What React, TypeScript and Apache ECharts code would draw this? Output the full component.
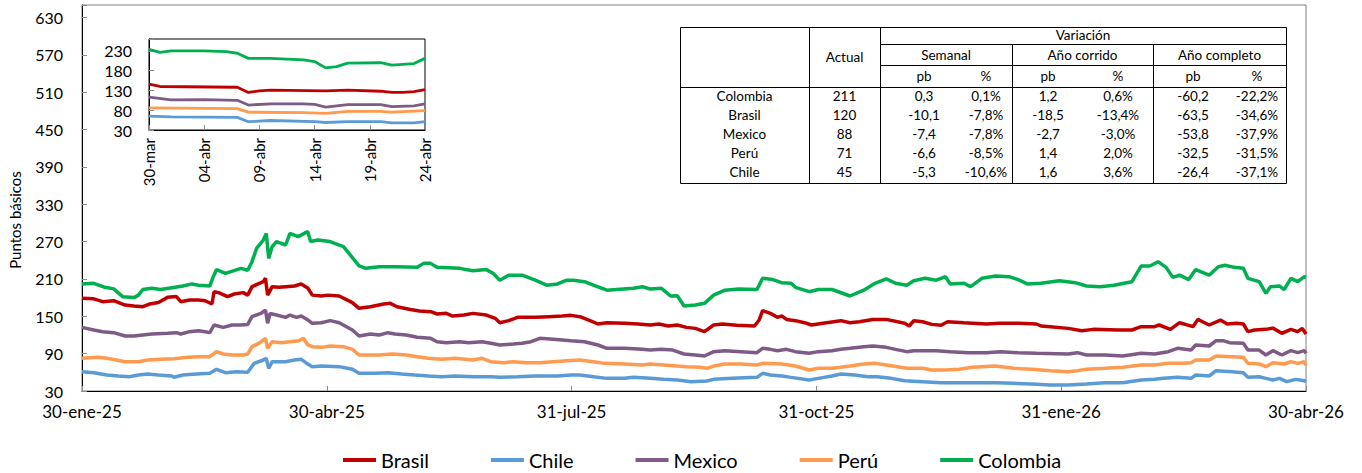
import React, { useEffect, useRef } from 'react';
import * as echarts from 'echarts';

// ---------- Data ----------
const seriesNames = ['Brasil', 'Chile', 'Mexico', 'Perú', 'Colombia'];
const seriesColors = ['#C00000', '#5B9BD5', '#7E5A86', '#FF9A4F', '#00B050'];

// main chart: x = days since 30-ene-25
const mainXLabels = ['30-ene-25', '30-abr-25', '31-jul-25', '31-oct-25', '31-ene-26', '30-abr-26'];
const insetXLabels = ['30-mar', '04-abr', '09-abr', '14-abr', '19-abr', '24-abr'];

const brasil: [number, number][] = [
  [0, 179], [4.4, 178], [7.7, 173.5], [11.8, 175], [16, 168], [19.3, 166.5], [22.6, 165.4], [25.1, 169.7], [28.4, 172],
  [31.8, 180.4], [35.1, 181.6], [36.7, 173.5], [40, 176.3], [43.3, 176.3], [45.8, 175], [48.3, 169.7], [49.1, 189.5],
  [50.8, 188], [54.1, 181.6], [56.6, 185.8], [59.9, 188], [61.6, 184], [63.2, 197.6], [67.4, 205.6], [68.2, 211],
  [69, 184], [70.7, 197.6], [73.2, 196.5], [75.7, 197.6], [79, 198.6], [81.5, 202], [84, 195], [85.6, 184], [89, 182.6],
  [91.4, 184], [95.6, 182.6], [100.5, 172], [103, 162.8], [107.2, 165.4], [112.2, 169.7], [114.6, 170.8], [117.1, 165.4],
  [122.1, 161], [125.4, 158.5], [129.6, 157.4], [132, 153.7], [135.4, 154.7], [137.8, 150.4], [142, 152], [145.3, 154.7],
  [150.3, 152], [153.6, 146.7], [155.3, 139.7], [158.6, 143], [161.9, 148.3], [168.5, 148.3], [173.5, 149.4],
  [178.5, 150.4], [181.8, 151.5], [185.1, 149.4], [188.4, 144], [191.8, 137.6], [195.1, 139.7], [201.7, 138.7],
  [206.7, 137.6], [211.2, 136], [214.5, 137.6], [217.9, 134.4], [221.3, 136], [224.7, 132.2], [228, 130.6],
  [231.4, 125.3], [234.8, 136], [238, 137.6], [243.3, 135.5], [250, 134.4], [251.7, 144], [253, 159], [255.9, 154.7],
  [258.5, 148.3], [260.1, 150.4], [261.9, 145], [265.2, 143], [268.6, 139.7], [271.2, 136], [275.4, 138.7], [282.1, 143],
  [285.5, 139.7], [288.9, 141.3], [294, 145], [299, 145], [305.8, 138.7], [307.5, 134.4], [309.2, 143], [312.5, 141.3],
  [315.9, 137], [319.3, 135.5], [321.8, 141.3], [327.8, 139.7], [336.2, 137.6], [341.3, 138.7], [348, 138.7],
  [354.8, 137.6], [356.5, 134.4], [359.9, 133.3], [366.6, 130.6], [371.7, 126.9], [375.9, 129], [385.2, 128],
  [390.3, 128], [393.7, 133.3], [398.7, 133.3], [400.4, 136], [404.6, 129], [408, 139.7], [411.4, 135.5], [413, 133.3],
  [414.8, 145], [417.3, 139.7], [419, 136], [423.2, 144], [425.7, 137.6], [429.2, 138.7], [431.7, 137.6], [433.4, 125.3],
  [435.9, 128], [440.1, 129], [442.7, 131], [446, 122.6], [449.4, 129], [451.9, 125.3], [453.6, 130.6], [455, 121.5],
];

const chile: [number, number][] = [
  [0, 61], [4.4, 59.4], [9.3, 55.7], [13.5, 54.1], [17.6, 53], [21, 55.7], [24.3, 57.3], [28.4, 55.7], [33.4, 54.1],
  [34.2, 52], [37.5, 55.7], [42.5, 57.3], [47.5, 58.4], [50, 64.8], [53.3, 59.4], [57.4, 61], [61.6, 60], [64, 74.4],
  [67.4, 79.8], [68.5, 82.5], [69.4, 66.4], [70.7, 77.1], [75.7, 77.1], [79, 79.8], [81.5, 80.9], [83.2, 75.5],
  [85.6, 69.1], [89, 70.1], [95.6, 69.1], [100.5, 64.8], [103, 58.4], [108.8, 58.4], [113.8, 59.4], [118.8, 57.3],
  [123.7, 55.7], [128.8, 54.1], [133.7, 53], [138.7, 54.1], [145.3, 53], [152, 53], [155.3, 52], [161.9, 53],
  [168.5, 54.1], [176.8, 54.1], [181.8, 55.7], [185.1, 55.7], [190.1, 53], [195.1, 50.3], [201.7, 50.3], [205, 52],
  [211.2, 50.3], [216.2, 48.7], [221.3, 47.7], [226.4, 45], [232.3, 46.1], [234.8, 48.7], [241.6, 50.3], [250.9, 51.9],
  [253, 58.4], [255.9, 55.7], [260.2, 54.1], [263.6, 51.9], [270.3, 47.7], [273.7, 50.3], [278.8, 54.1], [282.1, 57.3],
  [287.2, 55.7], [292.2, 53], [295.7, 53], [300.8, 50.3], [305.8, 46.6], [312.5, 45], [319.3, 43.4], [339.6, 43.4],
  [346.4, 42.3], [353.1, 41.2], [359.9, 39.6], [366.6, 39.6], [373.4, 41.2], [380.2, 43.4], [386.9, 43.4], [393.7, 47.7],
  [398.7, 48.7], [402.1, 50.3], [407.2, 51.9], [412.3, 50.3], [414, 55.7], [419, 54.1], [421.6, 62.7], [427.5, 61],
  [431.7, 59.4], [433.4, 51.9], [437.6, 53], [440.1, 50.3], [442.7, 47.7], [445.2, 50.3], [447.8, 45], [451.2, 48.7],
  [454.4, 46.6], [455, 45],
];

const mexico: [number, number][] = [
  [0, 132.2], [4.4, 128], [7.7, 125.3], [11.8, 123.7], [16, 118.3], [19.3, 118.3], [22.6, 120], [25.9, 121.5],
  [31.8, 122.6], [35.1, 123.7], [36.7, 121.5], [40, 125.3], [43.3, 126.9], [45.8, 125.3], [47.5, 123.7], [49.1, 136],
  [52.5, 132.2], [55.8, 136], [59.1, 136], [61.6, 137], [63.2, 149.4], [66.5, 154.7], [68.2, 160], [69, 138.7],
  [69.9, 154.7], [72.3, 152], [75.7, 148.3], [77.3, 152], [79.8, 148.3], [81.5, 150.4], [84, 144], [85.6, 138.7],
  [89, 139.7], [92.3, 143], [95.6, 139.7], [100.5, 128], [103, 118.3], [107.2, 121.5], [110.5, 120], [113.8, 123.7],
  [116.3, 121.5], [120.5, 120], [124.6, 116.2], [129.6, 114.6], [132, 109.2], [135.4, 107.6], [140.4, 109.2],
  [143.7, 107.6], [148.7, 109.2], [152, 106.6], [155.3, 103.9], [160.3, 105.5], [163.6, 106.6], [166.9, 109.2],
  [170.2, 114.6], [175.2, 113], [181.8, 110.8], [186.8, 109.2], [191.8, 103.9], [195.1, 98.5], [201.7, 98.5],
  [208.3, 96.9], [211.2, 95.8], [215.4, 96.9], [219.6, 95.8], [223.8, 89.4], [228, 87.8], [231.4, 86.2], [234.8, 93.2],
  [239, 94.8], [244.9, 93.2], [250.9, 91.6], [253, 98.5], [255.9, 96.9], [258.5, 94.8], [261.9, 96.9], [265.2, 93.2],
  [270.3, 90.5], [273.7, 93.2], [278.8, 94.8], [282.1, 96.9], [285.5, 98.5], [290.6, 101.2], [294, 102.3], [299, 100.1],
  [302.4, 96.9], [306.6, 93.2], [309.2, 94.8], [317.6, 94.8], [322.7, 93.2], [329.5, 91.6], [336.2, 91.6], [341.3, 93.2],
  [348, 91.6], [354.8, 90.5], [366.6, 89.4], [370, 91.6], [373.4, 87.8], [380.2, 87.8], [386.9, 86.2], [393.7, 90.5],
  [398.7, 89.4], [403.8, 93.2], [407.2, 98.5], [412.3, 95.8], [414, 103.9], [419, 102.3], [421.6, 110.8], [424.1, 110.8],
  [426.6, 107.6], [431.7, 106.6], [433.4, 95.8], [437.6, 95.8], [440.1, 87.8], [442.7, 94.8], [446, 87.8], [449.4, 94.8],
  [451.9, 91.6], [454.4, 94.8], [455, 90.5],
];

const peru: [number, number][] = [
  [0, 82.5], [6, 84.1], [9.3, 82.5], [12.7, 79.8], [16, 77.1], [21, 77.1], [24.3, 79.8], [29.2, 80.9], [34.2, 81.9],
  [39.2, 84.1], [43.3, 85.1], [47.5, 85.1], [50, 93.2], [52.5, 89.4], [55.8, 87.8], [59.9, 87.8], [61.6, 89.4],
  [63.2, 101.2], [65.7, 106.6], [68.2, 114.6], [69, 98.5], [70.7, 109.2], [74, 107.6], [77.3, 109.2], [80.6, 110.8],
  [82.3, 114.6], [84, 103.9], [85.6, 101.2], [89, 100.1], [92.3, 102.3], [97.2, 101.2], [100.5, 96.9], [103, 87.8],
  [110.5, 87.8], [115.5, 89.4], [120.5, 87.8], [124.6, 85.1], [128.8, 82.5], [133.7, 80.9], [138.7, 82.5], [145.3, 79.8],
  [148.7, 82.5], [152, 77.1], [156.9, 75.5], [160.3, 77.1], [165.2, 75.5], [170.2, 75.5], [175.2, 77.1], [180.2, 78.7],
  [185.1, 79.8], [190.1, 77.1], [194.2, 74.4], [201.7, 73.4], [208.3, 71.8], [211.2, 73.4], [216.2, 71.8], [221.3, 70.1],
  [224.7, 69.1], [229.7, 68], [232.3, 66.4], [234.8, 70.1], [239, 73.4], [244.9, 73.4], [250.9, 71.8], [253, 74.4],
  [260.2, 73.4], [265.2, 70.1], [270.3, 63.7], [273.7, 66.4], [278.8, 66.4], [282.1, 68], [285.5, 70.1], [290.6, 73.4],
  [294.8, 74.4], [299, 71.8], [303.2, 69.1], [306.6, 66.4], [312.5, 66.4], [315.9, 63.7], [321, 63.7], [326.1, 64.8],
  [331.1, 68], [339.6, 70.1], [346.4, 66.4], [353.1, 64.8], [359.9, 62.7], [366.6, 61], [370, 62.7], [373.4, 64.8],
  [380.2, 66.4], [386.9, 68], [393.7, 71.8], [398.7, 71.8], [403.8, 74.4], [408.9, 74.4], [412.3, 75.5], [414, 79.8],
  [419, 79.8], [421.6, 86.2], [427.5, 85.1], [431.7, 84.1], [433.4, 74.4], [437.6, 73.4], [440.1, 69.1], [442.7, 75.5],
  [446.9, 73.4], [449.4, 77.1], [451.9, 74.4], [454.4, 77.1], [455, 71.2],
];

const colombia: [number, number][] = [
  [0, 202], [4.4, 203], [8.5, 196.5], [11.8, 194], [15.1, 181.5], [19.3, 180], [21, 184], [22.6, 193], [25.9, 195],
  [29.2, 193], [33.4, 196], [37.5, 198.6], [40.9, 202], [43.3, 200], [47.5, 198.6], [48.8, 213.6], [50, 225], [53.3, 219],
  [59.1, 227], [61.6, 224], [63.2, 237.7], [64.9, 259], [67.4, 272.5], [68.5, 283], [69.4, 243], [70.7, 262], [72.3, 270],
  [75.7, 264.5], [77.3, 283], [80.3, 278], [83.9, 286], [85, 270], [87.6, 272.5], [92.2, 270], [97.2, 262], [103, 231],
  [105.5, 227], [110.5, 229.7], [117, 229.7], [124.6, 228.6], [127, 235], [129.6, 235], [132, 228.6], [140.4, 227],
  [145.3, 223], [150.3, 225], [152.8, 219], [155.3, 208], [158.6, 216], [163.6, 216], [168.5, 208], [172.7, 200],
  [176.8, 202], [180.2, 208], [182.6, 208], [186.8, 205.6], [190.1, 200], [195.1, 192], [205, 195], [208.3, 197.6],
  [211.2, 193.8], [215.4, 194.9], [218.8, 182.6], [221.3, 183], [223.8, 166.5], [228, 168], [231.4, 170.8], [234.8, 184],
  [239, 192], [244, 194], [250.9, 193], [253, 211], [256.8, 209], [260, 204], [263.6, 203], [265.2, 196.5], [270.3, 189.5],
  [273.7, 193], [278.8, 193], [285.5, 182.6], [290.6, 192], [294.8, 203], [299, 210], [302.4, 203], [306.6, 200],
  [309.2, 207], [313.4, 211], [317.6, 208], [321, 213.6], [322.7, 202], [327.8, 203], [330.3, 197.6], [334.5, 211],
  [339.6, 214.7], [344.6, 213.6], [348, 209], [351.4, 202], [356.5, 203], [363.3, 207], [369.2, 204], [373.4, 198.6],
  [378.5, 197.6], [383.6, 200], [390.3, 205.6], [393.7, 230.7], [397, 230.7], [400, 237.7], [403, 228.6], [405.5, 212.5],
  [408, 216], [411.4, 209], [414, 225], [419, 216], [422.4, 229.7], [424.9, 232], [428.3, 228.6], [431.7, 227],
  [433.4, 211], [437.6, 205.6], [440.1, 186.8], [441.8, 197.6], [445.2, 198.6], [446.9, 193], [449.4, 211],
  [451.9, 205.6], [454.4, 213.6], [455, 212.5],
];

// inset: x = days since 30-mar
const brasilInset: [number, number][] = [[0, 146], [1, 140], [8, 138], [9, 125], [10, 129], [11, 131], [16, 129], [18, 131], [21, 128], [22, 125], [23, 125], [24, 127], [25, 132]];
const chileInset: [number, number][] = [[0, 65], [2, 63], [8, 62], [9, 51], [11, 54], [15, 51], [16, 49], [18, 51], [21, 51], [22, 48], [24, 48], [25, 51]];
const mexicoInset: [number, number][] = [[0, 113], [2, 106], [5, 107], [8, 105], [9, 93], [11, 96], [14, 96], [15, 95], [16, 88], [18, 94], [21, 94], [22, 89], [24, 91], [25, 96]];
const peruInset: [number, number][] = [[0, 86], [8, 84], [9, 75], [14, 74], [16, 72], [18, 77], [21, 77], [22, 75], [25, 79]];
const colombiaInset: [number, number][] = [[0, 234], [1, 226], [2, 230], [5, 230], [7, 228], [8, 224], [9, 211], [11, 211], [14, 207], [15, 203], [16, 187], [17, 190], [18, 199], [21, 200], [22, 194], [24, 198], [25, 211]];

// table
const tblNames = ['Colombia', 'Brasil', 'Mexico', 'Perú', 'Chile'];
const tblActual = ['211', '120', '88', '71', '45'];
const tblSemPb = ['0,3', '-10,1', '-7,4', '-6,6', '-5,3'];
const tblSemPct = ['0,1%', '-7,8%', '-7,8%', '-8,5%', '-10,6%'];
const tblYtdPb = ['1,2', '-18,5', '-2,7', '1,4', '1,6'];
const tblYtdPct = ['0,6%', '-13,4%', '-3,0%', '2,0%', '3,6%'];
const tblYearPb = ['-60,2', '-63,5', '-53,8', '-32,5', '-26,4'];
const tblYearPct = ['-22,2%', '-34,6%', '-37,9%', '-31,5%', '-37,1%'];

const mainSeries = [brasil, chile, mexico, peru, colombia];
const insetSeries = [brasilInset, chileInset, mexicoInset, peruInset, colombiaInset];

const FONT = 'Lato';

function buildTable(): any[] {
  const els: any[] = [];
  const x0 = 680, x5 = 1286, c1 = 809, c2 = 880, c3 = 1012, c4 = 1153;
  const y0 = 27, yVar = 44, ySub = 65, yHead = 87, y1 = 183;
  const line = (x1: number, y1_: number, x2: number, y2: number) => ({
    type: 'line', z: 100, shape: { x1, y1: y1_, x2, y2 }, style: { stroke: '#000', lineWidth: 1 },
  });
  const txt = (t: string, x: number, y: number) => ({
    type: 'text', z: 101, x, y,
    style: { text: t, textAlign: 'center', textVerticalAlign: 'middle', font: `13.5px ${FONT}`, fill: '#000' },
  });
  els.push({ type: 'rect', z: 99, shape: { x: x0 + 0.5, y: y0 + 0.5, width: x5 - x0, height: y1 - y0 }, style: { fill: '#fff', stroke: '#000', lineWidth: 1 } });
  els.push(line(c1 + 0.5, y0, c1 + 0.5, y1));
  els.push(line(c2 + 0.5, y0, c2 + 0.5, y1));
  els.push(line(c3 + 0.5, yVar, c3 + 0.5, y1));
  els.push(line(c4 + 0.5, yVar, c4 + 0.5, y1));
  els.push(line(c2, yVar + 0.5, x5, yVar + 0.5));
  els.push(line(c2, ySub + 0.5, x5, ySub + 0.5));
  els.push(line(x0, yHead + 0.5, x5, yHead + 0.5));
  els.push(txt('Variación', (c2 + x5) / 2, 35));
  els.push(txt('Actual', (c1 + c2) / 2, 57));
  els.push(txt('Semanal', (c2 + c3) / 2, 55));
  els.push(txt('Año corrido', (c3 + c4) / 2, 55));
  els.push(txt('Año completo', (c4 + x5) / 2, 55));
  const colX = [924, 986, 1048, 1118, 1193, 1257];
  ['pb', '%', 'pb', '%', 'pb', '%'].forEach((t, i) => els.push(txt(t, colX[i], 76)));
  const cols = [tblSemPb, tblSemPct, tblYtdPb, tblYtdPct, tblYearPb, tblYearPct];
  tblNames.forEach((n, r) => {
    const y = 96 + r * 19;
    els.push(txt(n, (x0 + c1) / 2, y));
    els.push(txt(tblActual[r], (c1 + c2) / 2, y));
    cols.forEach((c, i) => els.push(txt(c[r], colX[i], y)));
  });
  return els;
}

export default function App() {
  const ref = useRef<HTMLDivElement>(null);
  useEffect(() => {
    if (!ref.current) return;
    const chart = echarts.init(ref.current, undefined, { renderer: 'svg' });
    const tick = { inside: true, length: 5, lineStyle: { color: '#8c8c8c' } };
    const series: any[] = [];
    seriesNames.forEach((name, i) => {
      series.push({
        name, type: 'line', xAxisIndex: 0, yAxisIndex: 0, data: mainSeries[i], symbol: 'none', showSymbol: false,
        lineStyle: { width: 3.5, color: seriesColors[i] }, itemStyle: { color: seriesColors[i] }, z: 2 + i,
      });
    });
    seriesNames.forEach((name, i) => {
      series.push({
        name, type: 'line', xAxisIndex: 1, yAxisIndex: 1, data: insetSeries[i], symbol: 'none', showSymbol: false,
        lineStyle: { width: 2.8, color: seriesColors[i] }, itemStyle: { color: seriesColors[i] }, z: 20 + i,
      });
    });
    const option: any = {
      animation: false,
      backgroundColor: '#fff',
      textStyle: { fontFamily: FONT },
      grid: [
        { left: 82, top: 5, width: 1224, height: 386, show: true, borderColor: '#7f7f7f', borderWidth: 1, backgroundColor: 'transparent', z: 0 },
        { left: 149, top: 39, width: 276, height: 91, show: true, borderColor: '#000', borderWidth: 1, backgroundColor: '#fff', z: 10 },
      ],
      xAxis: [
        {
          type: 'value', gridIndex: 0, min: 0, max: 455, interval: 91,
          axisLine: { show: true, onZero: false, lineStyle: { color: '#000', width: 1 } },
          axisTick: tick, splitLine: { show: false },
          axisLabel: { margin: 12, fontSize: 17, color: '#000', fontFamily: FONT, formatter: (v: number) => mainXLabels[Math.round(v / 91)] ?? '' },
        },
        {
          type: 'value', gridIndex: 1, min: 0, max: 25, interval: 5, z: 11,
          axisLine: { show: true, onZero: false, lineStyle: { color: '#000', width: 1 } },
          axisTick: tick, splitLine: { show: false },
          axisLabel: { margin: 8, rotate: 90, fontSize: 15, color: '#000', fontFamily: FONT, formatter: (v: number) => insetXLabels[Math.round(v / 5)] ?? '' },
        },
      ],
      yAxis: [
        {
          type: 'value', gridIndex: 0, min: 30, max: 650, interval: 60,
          axisLine: { show: true, lineStyle: { color: '#000', width: 1 } },
          axisTick: tick, splitLine: { show: false },
          axisLabel: { margin: 19, fontSize: 16, color: '#000', fontFamily: FONT, formatter: (v: number) => (v > 630 ? '' : String(v)) },
        },
        {
          type: 'value', gridIndex: 1, min: 30, max: 260, interval: 50, z: 11,
          axisLine: { show: true, lineStyle: { color: '#000', width: 1 } },
          axisTick: tick, splitLine: { show: false },
          axisLabel: { margin: 17, fontSize: 16, color: '#000', fontFamily: FONT, formatter: (v: number) => (v > 230 ? '' : String(v)) },
        },
      ],
      legend: {
        top: 445, left: 338, icon: 'rect', itemWidth: 33, itemHeight: 4, itemGap: 62,
        data: seriesNames, textStyle: { fontSize: 20, color: '#000', fontFamily: FONT },
      },
      graphic: [
        {
          type: 'text', x: 15, y: 220, rotation: Math.PI / 2, z: 50,
          style: { text: 'Puntos básicos', textAlign: 'center', textVerticalAlign: 'middle', font: `15px ${FONT}`, fill: '#000' },
        },
        ...buildTable(),
      ],
      series,
    };
    chart.setOption(option);
    return () => chart.dispose();
  }, []);
  return <div ref={ref} style={{ position: 'fixed', left: 0, top: 0, width: 1362, height: 473 }} />;
}
